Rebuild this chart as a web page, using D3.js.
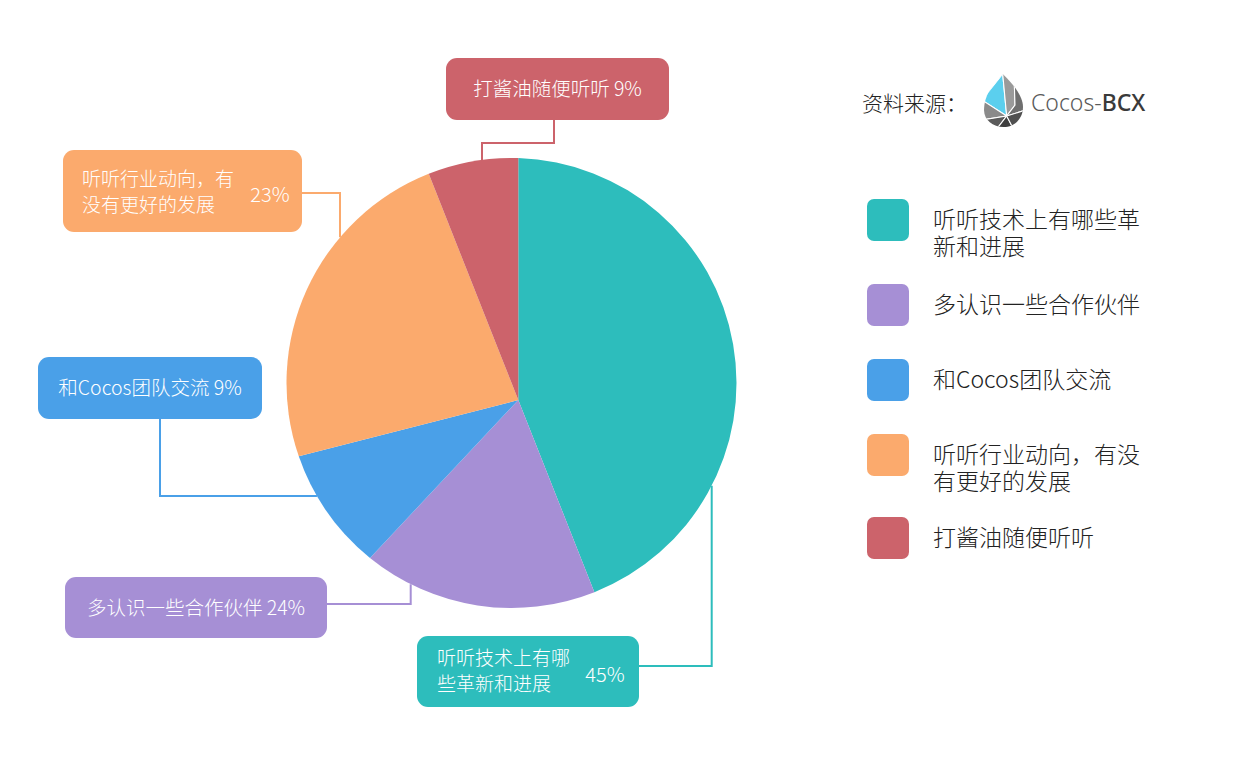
<!DOCTYPE html>
<html><head><meta charset="utf-8">
<script src="https://cdn.jsdelivr.net/npm/d3@7"></script>
<style>html,body{margin:0;background:#fff;} svg{display:block;}</style>
</head><body>
<svg id="chart" width="1239" height="770"></svg>
<script>
// ---------- data ----------
const categories = ["听听技术上有哪些革新和进展","多认识一些合作伙伴","和Cocos团队交流","听听行业动向，有没有更好的发展","打酱油随便听听"];
const sliceValues = [44, 18, 9, 23, 6];          // slice sizes as drawn
const labelPercents = ["45%","24%","9%","23%","9%"]; // percentages printed in the callouts
const colors = ["#2dbdbc","#a68fd5","#4aa0e8","#fbaa6d","#cc636b"];
const boxLines = [["听听技术上有哪","些革新和进展"],["多认识一些合作伙伴"],["和Cocos团队交流"],["听听行业动向，有","没有更好的发展"],["打酱油随便听听"]];
const legendLines = [["听听技术上有哪些革","新和进展"],["多认识一些合作伙伴"],["和Cocos团队交流"],["听听行业动向，有没","有更好的发展"],["打酱油随便听听"]];
const sourceLabel = "资料来源：";

// ---------- layout ----------
const FONT = "'Noto Sans CJK SC','Noto Sans',sans-serif";
const apex = {x:518.3, y:400};
const circ = {x:511.5, y:383, r:225};
const boxes = [
  {x:417, y:636, w:222, h:71, textX:437, lineY:[658,684], pctX:605, pctY:675, conn:[[639,666],[711.7,666]], end:"bottom"},
  {x:65,  y:577, w:262, h:61, conn:[[327,604],[410.7,604]], end:"bottom"},
  {x:38,  y:357, w:224, h:62, conn:[[160,419],[160,496]], end:"left"},
  {x:63,  y:150, w:239, h:82, textX:82, lineY:[179,205], pctX:270, pctY:195, conn:[[302,193],[340,193]], end:"top"},
  {x:446, y:58,  w:223, h:62, conn:[[554,120],[554,143],[482,143]], end:"top"}
];
const legend = {swX:867, sw:42, textX:933, tops:[199,284,359,434,517], lineGap:27};

const svg = d3.select("#chart");

// ---------- pie ----------
const pie = d3.pie().sort(null).value(d => d)(sliceValues);
function hit(a){
  const dx = Math.sin(a), dy = -Math.cos(a);
  const wx = apex.x - circ.x, wy = apex.y - circ.y;
  const b = wx*dx + wy*dy, c = wx*wx + wy*wy - circ.r*circ.r;
  const t = -b + Math.sqrt(b*b - c);
  return [apex.x + t*dx, apex.y + t*dy];
}
function slicePath(d){
  const p0 = hit(d.startAngle), p1 = hit(d.endAngle);
  const t0 = Math.atan2(p0[1]-circ.y, p0[0]-circ.x), t1 = Math.atan2(p1[1]-circ.y, p1[0]-circ.x);
  let diff = t1 - t0; while (diff < 0) diff += 2*Math.PI;
  const large = diff > Math.PI ? 1 : 0;
  const p = d3.path();
  p.moveTo(apex.x, apex.y); p.lineTo(p0[0], p0[1]);
  return p.toString() + `A${circ.r},${circ.r} 0 ${large} 1 ${p1[0]},${p1[1]}Z`;
}
svg.append("g").selectAll("path").data(pie).join("path")
  .attr("d", slicePath).attr("fill", (d,i) => colors[i]);

// ---------- connectors ----------
function edgePoint(last, side){
  if (side === "top" || side === "bottom"){
    const h = Math.sqrt(circ.r*circ.r - (last[0]-circ.x)**2);
    return [last[0], side === "top" ? circ.y - h : circ.y + h];
  }
  const w = Math.sqrt(circ.r*circ.r - (last[1]-circ.y)**2);
  return [circ.x - w, last[1]];
}
const line = d3.line();
svg.append("g").selectAll("path").data(boxes).join("path")
  .attr("d", b => line([...b.conn, edgePoint(b.conn[b.conn.length-1], b.end)]))
  .attr("fill","none").attr("stroke",(d,i)=>colors[i]).attr("stroke-width",2);

// ---------- callout boxes ----------
const bg = svg.append("g").selectAll("g").data(boxes).join("g");
bg.append("rect").attr("x",b=>b.x).attr("y",b=>b.y).attr("width",b=>b.w).attr("height",b=>b.h)
  .attr("rx",11).attr("fill",(d,i)=>colors[i]);
bg.each(function(b,i){
  const g = d3.select(this);
  if (boxLines[i].length > 1){
    const t = g.append("text").attr("font-size",19).attr("font-weight",300).attr("fill","#fff").attr("font-family",FONT);
    boxLines[i].forEach((s,k)=>{
      t.append("tspan").attr("x",b.textX).attr("y",b.lineY[k]).attr("dy","0.36em").text(s);
    });
    g.append("text").attr("x",b.pctX).attr("y",b.pctY).attr("dy","0.36em").attr("text-anchor","middle")
      .attr("font-size",20).attr("font-weight",300).attr("fill","#fff").attr("font-family",FONT).text(labelPercents[i]);
  } else {
    g.append("text").attr("x",b.x+b.w/2).attr("y",b.y+b.h/2).attr("dy","0.36em").attr("text-anchor","middle")
      .attr("font-size",19.5).attr("font-weight",300).attr("fill","#fff").attr("font-family",FONT)
      .text(boxLines[i][0] + " " + labelPercents[i]);
  }
});

// ---------- legend ----------
const lg = svg.append("g").selectAll("g").data(categories).join("g");
lg.append("rect").attr("x",legend.swX).attr("y",(d,i)=>legend.tops[i]).attr("width",legend.sw).attr("height",legend.sw)
  .attr("rx",7).attr("fill",(d,i)=>colors[i]);
lg.each(function(d,i){
  const t = d3.select(this).append("text").attr("font-size",23).attr("font-weight",300)
    .attr("fill","#222").attr("font-family",FONT);
  legendLines[i].forEach((s,k)=>{
    t.append("tspan").attr("x",legend.textX).attr("y",legend.tops[i]+21+k*legend.lineGap)
      .attr("dy","0.36em").text(s);
  });
});

// ---------- source + logo ----------
svg.append("text").attr("x",862).attr("y",103).attr("dy","0.36em").attr("font-size",21).attr("font-weight",300)
  .attr("fill","#222").attr("font-family",FONT).text(sourceLabel);
const logo = svg.append("g").attr("transform","translate(984,74)");
const outline = "M18.7,0 C28,9 39,21 39,33 C39,45 30,53 19.5,53 C9,53 0,46 0,36 C0,22 8,11 18.7,0 Z";
svg.append("defs").append("clipPath").attr("id","logoClip").append("path").attr("d",outline);
const lf = logo.append("g").attr("clip-path","url(#logoClip)");
const facets = [
  {p:[[18.7,0],[-2,26],[22.7,42]], c:"#5bcfee"},
  {p:[[18.7,0],[22.7,42],[31,31],[30,0]], c:"#9a9a9a"},
  {p:[[30,0],[31,31],[22.7,42],[42,36],[42,0]], c:"#6f6f6f"},
  {p:[[-2,26],[22.7,42],[-2,46]], c:"#8a8a8a"},
  {p:[[-2,46],[22.7,42],[12,56],[-2,56]], c:"#5a5a5a"},
  {p:[[22.7,42],[12,56],[30,56]], c:"#3f3f3f"},
  {p:[[22.7,42],[42,36],[42,56],[30,56]], c:"#505050"}
];
lf.selectAll("polygon").data(facets).join("polygon")
  .attr("points",d=>d.p.map(q=>q.join(",")).join(" ")).attr("fill",d=>d.c)
  .attr("stroke","#fff").attr("stroke-width",1.1);
const ct = svg.append("text").attr("x",1031).attr("y",111).attr("font-size",23).attr("font-family","'Noto Sans',sans-serif");
ct.append("tspan").attr("fill","#5a5a5a").attr("font-weight",300).text("Cocos-");
ct.append("tspan").attr("fill","#3a3a3a").attr("font-weight",500).text("BCX");
</script>
</body></html>
